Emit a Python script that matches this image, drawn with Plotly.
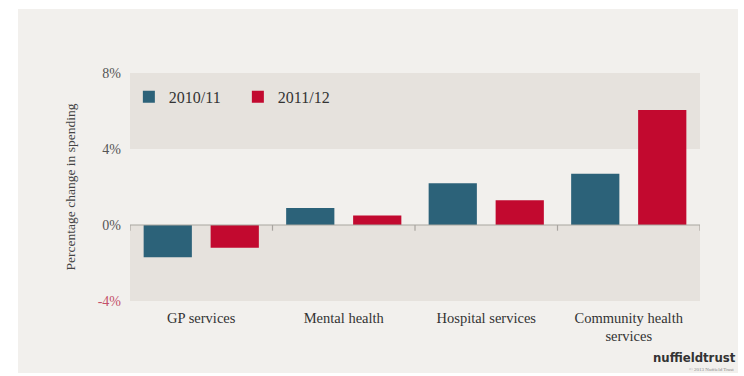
import plotly.graph_objects as go

categories = ["GP services", "Mental health", "Hospital services", "Community health<br>services"]
series_names = ["2010/11", "2011/12"]
values_2010 = [-1.7, 0.9, 2.2, 2.7]
values_2011 = [-1.2, 0.5, 1.3, 6.05]
y_ticks = [-4, 0, 4, 8]
y_tick_labels = ["<span style='color:#c4506a'>-4%</span>", "0%", "4%", "8%"]

BLUE = "#2c6279"
RED = "#c2092f"
PANEL = "#f2f0ed"
BAND = "#e6e2dd"
FONT = "Liberation Serif"

fig = go.Figure()
fig.add_bar(x=categories, y=values_2010, name=series_names[0], marker_color=BLUE, marker_line_width=0)
fig.add_bar(x=categories, y=values_2011, name=series_names[1], marker_color=RED, marker_line_width=0)

W, H = 744, 376
L, R, T, B = 130, 44, 73, 75
pw, ph = W - L - R, H - T - B

shapes = []
# outer panel
shapes.append(dict(type="rect", xref="paper", yref="paper",
                   x0=(18 - L) / pw, x1=(738 - L) / pw,
                   y0=(H - B - 373) / ph, y1=(H - B - 9) / ph,
                   fillcolor=PANEL, line_width=0, layer="below"))
# bands
shapes.append(dict(type="rect", xref="x domain", yref="y", x0=0, x1=1, y0=4, y1=8,
                   fillcolor=BAND, line_width=0, layer="below"))
shapes.append(dict(type="rect", xref="x domain", yref="y", x0=0, x1=1, y0=-4, y1=0,
                   fillcolor=BAND, line_width=0, layer="below"))
# zero axis line with ticks at category boundaries
shapes.append(dict(type="line", xref="x domain", yref="y", x0=0, x1=1, y0=0, y1=0,
                   line=dict(color="#a8a5a0", width=1.2), layer="above"))
for i in range(len(categories) + 1):
    shapes.append(dict(type="line", xref="x", yref="y", x0=i - 0.5, x1=i - 0.5, y0=0, y1=-0.3,
                       line=dict(color="#a8a5a0", width=1.2), layer="above"))

fig.update_layout(
    width=W, height=H,
    margin=dict(l=L, r=R, t=T, b=B),
    paper_bgcolor="white",
    plot_bgcolor="rgba(0,0,0,0)",
    barmode="group",
    bargap=0.06,
    bargroupgap=0.28,
    shapes=shapes,
    font=dict(family=FONT, color="#333333"),
    showlegend=True,
    legend=dict(orientation="h", x=-0.002, y=0.97, xanchor="left", yanchor="top",
                bgcolor="rgba(0,0,0,0)", font=dict(size=16, color="#333333", family=FONT),
                entrywidth=64, itemwidth=30),
    xaxis=dict(showgrid=False, showline=False, ticks="", tickfont=dict(size=14.5, color="#333333"),
               range=[-0.5, 3.5], ticklabelstandoff=6),
    yaxis=dict(range=[-4, 8], tickvals=y_ticks, ticktext=y_tick_labels, showgrid=False,
               zeroline=False, showline=False, ticks="", ticklabelstandoff=8,
               tickfont=dict(size=14, color="#555555"),
               title=dict(text="Percentage change in spending", font=dict(size=13.5, color="#444444"),
                          standoff=18)),
    annotations=[
        dict(text="<b>nuffieldtrust</b>", xref="paper", yref="paper",
             x=(738 - L) / pw, y=(H - B - 357) / ph, xanchor="right", yanchor="middle",
             showarrow=False, font=dict(family="Liberation Sans Narrow, DejaVu Sans Condensed", size=13, color="#333333")),
        dict(text="© 2013 Nuffield Trust", xref="paper", yref="paper",
             x=(736 - L) / pw, y=(H - B - 369) / ph, xanchor="right", yanchor="middle",
             showarrow=False, font=dict(family=FONT, size=5, color="#888888")),
    ],
)

fig.write_html("out.html", config={"displayModeBar": False},
               post_script="document.body.style.margin='0';document.body.style.padding='0';")
